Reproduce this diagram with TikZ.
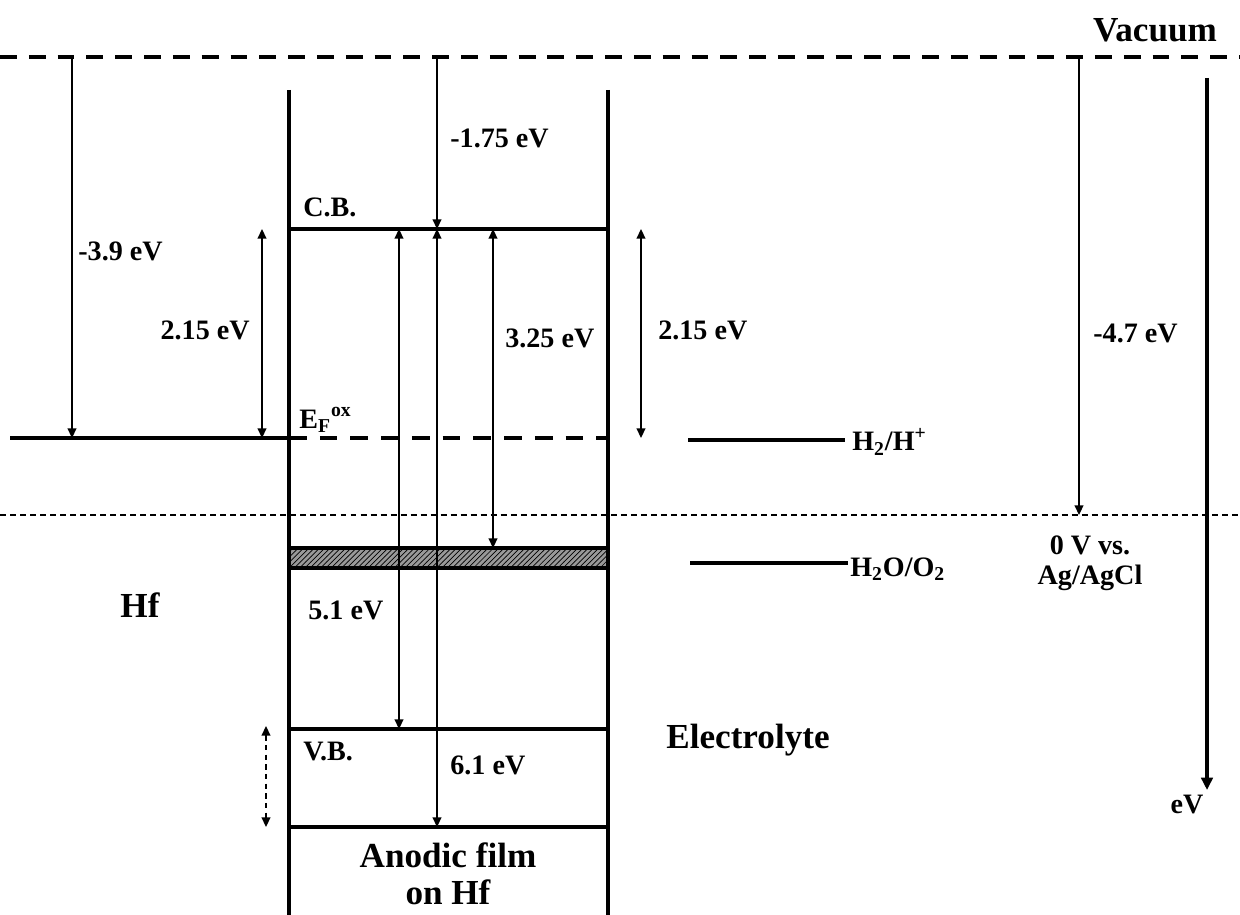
\documentclass[tikz,border=0pt]{standalone}
\usepackage{fontspec}
\setmainfont{Liberation Serif}
\usetikzlibrary{arrows.meta, patterns}
\newcommand\filmL{289}
\newcommand\filmR{608}
\newcommand\smallFont{\fontsize{16}{18}\selectfont\bfseries}
\newcommand\bigFont{\fontsize{20}{22}\selectfont\bfseries}
\tikzset{
    wall/.style={line width=2.6pt},
    level/.style={line width=2pt},
    gap/.style={line width=0.95pt, -{Triangle[length=5.5pt,width=5pt]}},
    twoway/.style={line width=0.95pt, {Triangle[length=5.5pt,width=5pt]}-{Triangle[length=5.5pt,width=5pt]}},
    lbl/.style={font=\smallFont, inner sep=0pt},
    biglbl/.style={font=\bigFont, inner sep=0pt, align=center},
}
\begin{document}
\begin{tikzpicture}[x=0.02cm, y=-0.02cm]
    \useasboundingbox (0,0) rectangle (1240,915);

    % energy levels
    \coordinate (vac) at (0,57);
    \coordinate (cb) at (0,229);
    \coordinate (ef) at (0,438);
    \coordinate (ref) at (0,515);
    \coordinate (band) at (0,548);
    \coordinate (vbTop) at (0,726);
    \coordinate (vb) at (0,729);
    \coordinate (bot) at (0,827);
    % arrow columns
    \coordinate (colHf) at (72,0);
    \coordinate (colGapL) at (262,0);
    \coordinate (colDash) at (266,0);
    \coordinate (colVB) at (399,0);
    \coordinate (colMid) at (437,0);
    \coordinate (colBand) at (493,0);
    \coordinate (colGapR) at (641,0);
    \coordinate (colRef) at (1079,0);
    % film walls
    \coordinate (wallLT) at (\filmL,90);
    \coordinate (wallLB) at (\filmL,915);
    \coordinate (wallRT) at (\filmR,90);
    \coordinate (wallRB) at (\filmR,915);

    \draw[wall, dash pattern=on 9.6pt off 6.8pt] (vac) -- +(1240,0);
    \draw[line width=0.85pt, dash pattern=on 3.4pt off 2.3pt] (ref) -- +(1240,0);

    \fill[black!40] (\filmL,548) rectangle (\filmR,568);
    \fill[pattern=north east lines, pattern color=black] (\filmL,548) rectangle (\filmR,568);
    \draw[level] (\filmL,548) -- (\filmR,548);
    \draw[level] (\filmL,568) -- (\filmR,568);

    \draw[wall] (wallLT) -- (wallLB);
    \draw[wall] (wallRT) -- (wallRB);
    \draw[level] (wallLT |- cb) -- (wallRT |- cb);
    \draw[level] (wallLT |- vb) -- (wallRT |- vb);
    \draw[level] (wallLT |- bot) -- (wallRT |- bot);
    \draw[level] (10,438) -- (wallLT |- ef);
    \draw[level, dash pattern=on 10pt off 7.5pt] (wallLT |- ef) -- (wallRT |- ef);

    \draw[level] (688,440) -- (845,440);
    \draw[level] (690,563) -- (848,563);

    \draw[gap] (colHf |- vac) -- (colHf |- ef);
    \draw[twoway] (colGapL |- cb) -- (colGapL |- ef);
    \draw[gap] (colMid |- vac) -- (colMid |- cb);
    \draw[twoway] (colVB |- cb) -- (colVB |- vb);
    \draw[twoway] (colMid |- cb) -- (colMid |- bot);
    \draw[twoway] (colBand |- cb) -- (colBand |- band);
    \draw[twoway] (colGapR |- cb) -- (colGapR |- ef);
    \draw[twoway, dash pattern=on 3pt off 2.5pt] (colDash |- vbTop) -- (colDash |- bot);
    \draw[gap] (colRef |- vac) -- (colRef |- ref);
    \draw[level, -{Triangle[length=7pt,width=6.5pt]}] (1207,78) -- (1207,790);

    \node[biglbl] (vacLbl) at (1155,30) {Vacuum};
    \node[lbl, anchor=west] (dVacCB) at (450,138) {-1.75 eV};
    \node[lbl, anchor=west] (cbLbl) at (303,207) {C.B.};
    \node[lbl, anchor=west] (dVacEF) at (78,251) {-3.9 eV};
    \node[lbl, anchor=east] (dGapL) at (250,330) {2.15 eV};
    \node[lbl, anchor=base west] (efLbl) at (299,428) {E\textsubscript{F}\textsuperscript{ox}};
    \node[lbl, anchor=west] (dBand) at (505,338) {3.25 eV};
    \node[lbl, anchor=west] (dGapR) at (658,330) {2.15 eV};
    \node[lbl, anchor=west] (dRef) at (1093,333) {-4.7 eV};
    \node[lbl, anchor=west] (hLbl) at (852,442) {H\textsubscript{2}/H\textsuperscript{+}};
    \node[lbl, anchor=west] (oLbl) at (850,569) {H\textsubscript{2}O/O\textsubscript{2}};
    \node[lbl, align=center] (refLbl) at (1090,563) {0 V vs.\\[-1pt]Ag/AgCl};
    \node[biglbl] (hfLbl) at (140,605) {Hf};
    \node[lbl, anchor=west] (dVB) at (308,610) {5.1 eV};
    \node[lbl, anchor=west] (vbLbl) at (303,752) {V.B.};
    \node[biglbl] (elLbl) at (748,740) {Electrolyte};
    \node[lbl, anchor=west] (dBot) at (450,765) {6.1 eV};
    \node[lbl] (evLbl) at (1187,805) {eV};
    \node[biglbl] (filmLbl) at (448,874) {Anodic film\\[-1pt]on Hf};
\end{tikzpicture}
\end{document}
